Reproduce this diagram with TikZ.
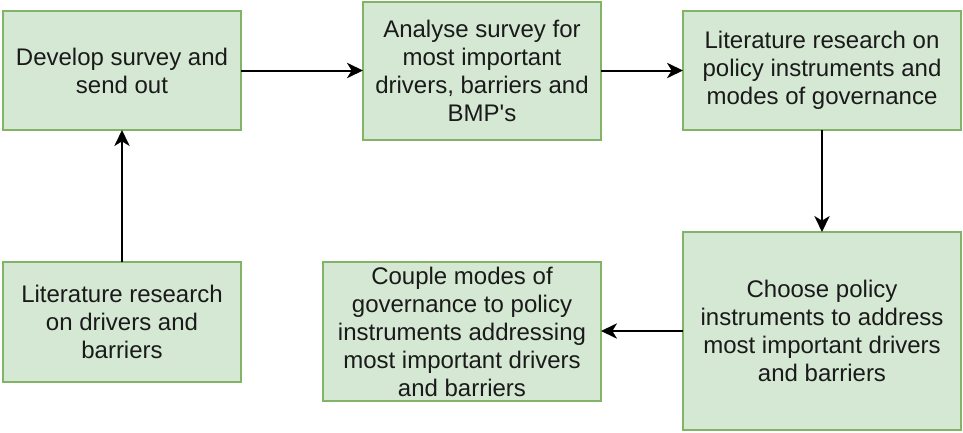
\documentclass[tikz,border=0pt]{standalone}
\usepackage{fontspec}
\setmainfont{Liberation Sans}[Ligatures=TeXOff]
\usetikzlibrary{arrows.meta}
\definecolor{boxfill}{HTML}{D5E8D4}
\definecolor{boxdraw}{HTML}{82B366}
\definecolor{txt}{HTML}{1A1A1A}
\tikzset{
  stepbox/.style={draw=boxdraw, fill=boxfill, line width=1.4pt, rectangle,
    inner sep=0pt, outer sep=0pt, align=center, text=txt,
    font=\fontsize{18}{21}\selectfont},
  flow/.style={draw=black, line width=1.5pt,
    -{Stealth[length=12pt, width=11.5pt, inset=3.5pt]}},
}
\begin{document}
\begin{tikzpicture}[x=0.75pt, y=-0.75pt]
\useasboundingbox (0,0) rectangle (963,432);
\node[stepbox, minimum width=238*0.75pt, minimum height=119*0.75pt] (b1) at (122,70.5)
  {Develop survey and\\send out};
\node[stepbox, minimum width=238*0.75pt, minimum height=138*0.75pt] (b2) at (482,71)
  {Analyse survey for\\most important\\drivers, barriers and\\BMP's};
\node[stepbox, minimum width=278*0.75pt, minimum height=119*0.75pt] (b3) at (822,70.5)
  {Literature research on\\policy instruments and\\modes of governance};
\node[stepbox, minimum width=238*0.75pt, minimum height=120*0.75pt] (b4) at (122,322)
  {Literature research\\on drivers and\\barriers};
\node[stepbox, minimum width=278*0.75pt, minimum height=139*0.75pt] (b5) at (462,331.5)
  {Couple modes of\\governance to policy\\instruments addressing\\most important drivers\\and barriers};
\node[stepbox, minimum width=278*0.75pt, minimum height=198*0.75pt] (b6) at (822,331)
  {Choose policy\\instruments to address\\most important drivers\\and barriers};
\draw[flow] (b1.east) -- (b1.east -| b2.west);
\draw[flow] (b2.east |- b3.west) -- (b3.west);
\draw[flow] (b3.south) -- (b6.north);
\draw[flow] (b6.west) -- (b6.west -| b5.east);
\draw[flow] (b4.north) -- (b1.south);
\end{tikzpicture}
\end{document}
